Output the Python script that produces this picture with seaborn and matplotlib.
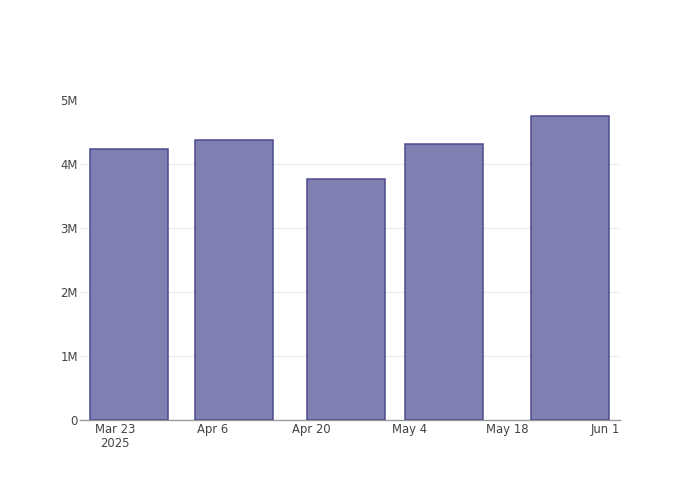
import numpy as np
import pandas as pd
import seaborn as sns
import matplotlib
matplotlib.use("Agg")
import matplotlib.pyplot as plt
import matplotlib.dates as mdates

dates = ["2025-03-25", "2025-04-09", "2025-04-25", "2025-05-09", "2025-05-27"]
values = [4.23e6, 4.37e6, 3.76e6, 4.31e6, 4.75e6]
tick_dates = ["2025-03-23", "2025-04-06", "2025-04-20", "2025-05-04", "2025-05-18", "2025-06-01"]
tick_labels = ["Mar 23\n2025", "Apr 6", "Apr 20", "May 4", "May 18", "Jun 1"]
y_ticks = [0, 1e6, 2e6, 3e6, 4e6, 5e6]
y_labels = ["0", "1M", "2M", "3M", "4M", "5M"]

FILL = "#7f7fb1"
EDGE = "#4b4b90"
TXT = "#444444"

sns.set_theme(style="white")
plt.rcParams['font.family'] = ['DejaVu Sans']

df = pd.DataFrame({"x": mdates.date2num(pd.to_datetime(dates)), "y": values})

fig = plt.figure(figsize=(7, 5), dpi=100)
ax = fig.add_axes([80 / 700, 80 / 500, 540 / 700, 320 / 500])

sns.barplot(data=df, x="x", y="y", native_scale=True, width=0.8,
            color=FILL, saturation=1, edgecolor=EDGE, linewidth=1.1, ax=ax, zorder=3)

ax.set_xlim(mdates.date2num(pd.Timestamp("2025-03-18")),
            mdates.date2num(pd.Timestamp("2025-06-03 03:00")))
ax.set_ylim(0, 5e6)

ax.set_xticks(mdates.date2num(pd.to_datetime(tick_dates)))
ax.set_xticklabels(tick_labels, fontsize=8.4, color=TXT, linespacing=1.15)
ax.set_yticks(y_ticks)
ax.set_yticklabels(y_labels, fontsize=8.4, color=TXT)
ax.tick_params(axis="both", length=0)
ax.tick_params(axis="x", pad=2)
ax.tick_params(axis="y", pad=1.5)

ax.grid(axis="y", color="#eeeeee", linewidth=1, zorder=0)
ax.set_axisbelow(True)
# no gridline on the top edge (5M) or on the baseline
gl = ax.get_ygridlines()
gl[-1].set_visible(False)
gl[0].set_visible(False)
for s in ["top", "right", "left"]:
    ax.spines[s].set_visible(False)
ax.spines["bottom"].set_color("#999999")
ax.spines["bottom"].set_linewidth(1)
ax.set_xlabel("")
ax.set_ylabel("")

fig.savefig("out.png", dpi=100)
